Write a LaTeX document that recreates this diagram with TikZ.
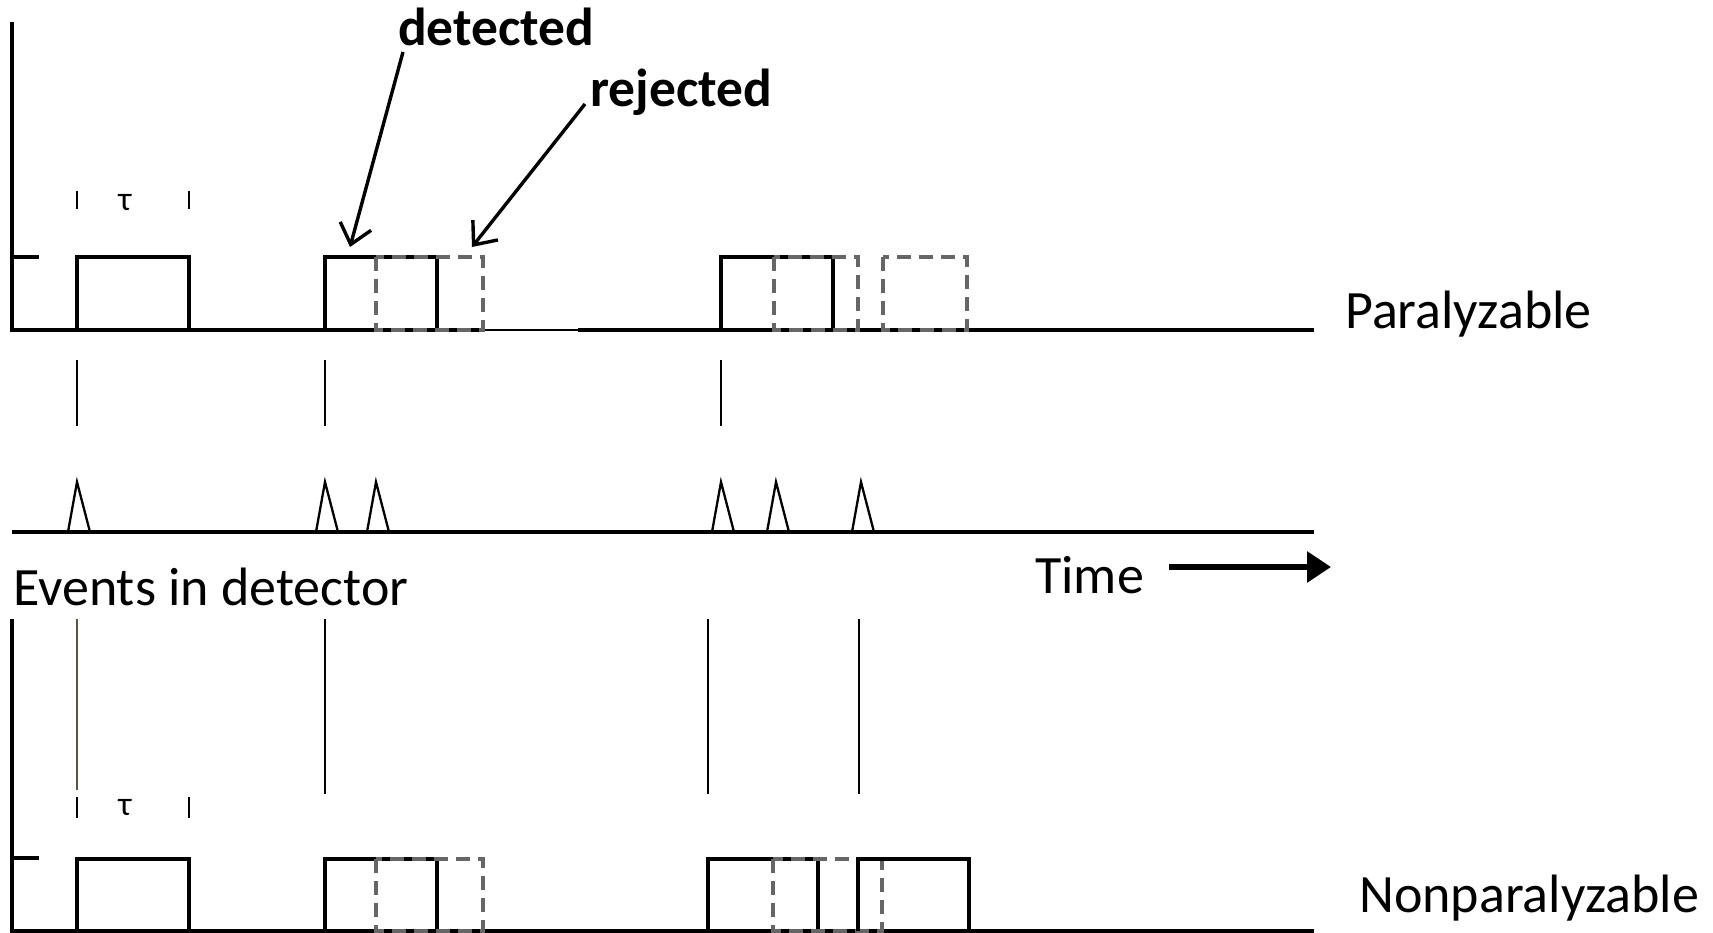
\documentclass[tikz,border=0pt]{standalone}
\usepackage{fontspec}
\setmainfont{Carlito}
\usetikzlibrary{arrows.meta}
\definecolor{ghostgray}{HTML}{666666}
\definecolor{olive}{HTML}{5C5544}
\begin{document}
\begin{tikzpicture}[x=1pt,y=-1pt,
  axis/.style={line width=3.4pt},
  pulse/.style={line width=3.4pt},
  ghost/.style={line width=3.4pt, draw=ghostgray, dash pattern=on 14pt off 8pt},
  tickmark/.style={line width=2.6pt},
  spike/.style={line width=2.4pt},
  peak/.style={line width=2.3pt, line join=miter},
  lbl/.style={inner sep=0pt, anchor=base west, font=\fontsize{54}{60}\selectfont},
  callout/.style={inner sep=0pt, anchor=base west, font=\bfseries\fontsize{53.5}{60}\selectfont},
  taulbl/.style={inner sep=0pt, font=\fontsize{34}{36}\selectfont},
  pointer/.style={line width=3.4pt, -{Straight Barb[length=19pt,width=32pt,line width=3.4pt]}},
]
\useasboundingbox (0,0) rectangle (1713,933);

% ---------- paralyzable counter ----------
\draw[axis] (12,22) -- (12,330) -- (484,330);
\draw[line width=2.2pt] (484,330) -- (578,330);
\draw[axis] (578,330) -- (1314,330);
\draw[axis] (12,257) -- (39,257);
% dead-time marks
\draw[tickmark] (77,191) -- (77,209);
\draw[tickmark] (189,191) -- (189,209);
\node[taulbl] (tauA) at (125,203) {τ};
% recorded pulses and extensions
\draw[pulse] (77,330) |- (189,257) -- (189,330);
\draw[pulse] (325,330) |- (437,257) -- (437,330);
\draw[ghost] (376,257) rectangle (483,330);
\draw[pulse] (721,330) |- (833,257) -- (833,330);
\draw[ghost] (774,257) rectangle (858,330);
\draw[ghost] (883,257) rectangle (967,330);

\node[lbl] (para) at (1345,328) {Paralyzable};

% callouts
\node[callout] (det) at (398,46) {detected};
\node[callout] (rej) at (590,107) {rejected};
\coordinate (detFrom) at (403,52);
\coordinate (detTip) at (350,247);
\coordinate (rejFrom) at (585,104);
\coordinate (rejTip) at (472,247);
\draw[pointer] (detFrom) -- (detTip);
\draw[pointer] (rejFrom) -- (rejTip);

% detected-event markers
\foreach \x in {77,325,721}
  \draw[spike] (\x,360) -- (\x,426);

% ---------- events in detector ----------
\foreach \x in {77,325,376,721,776,861}
  \draw[peak] (\x-9,532) -- (\x,482) -- (\x+13,532);
\draw[axis] (12,532) -- (1314,532);
\node[lbl] (events) at (13,605) {Events in detector};
\node[lbl] (time) at (1035,593) {Time};
\coordinate (tA) at (1169,567);
\coordinate (tB) at (1331,567);
\draw[line width=6pt, -{Triangle[length=24pt,width=30pt]}] (tA) -- (tB);

% ---------- nonparalyzable counter ----------
\draw[line width=2.8pt, olive] (77,619) -- (77,790);
\foreach \x in {325,708,859}
  \draw[line width=2.8pt] (\x,619) -- (\x,794);
\draw[axis] (12,619) -- (12,931) -- (1314,931);
\draw[axis] (12,858) -- (39,858);
\draw[tickmark] (77,797) -- (77,818);
\draw[tickmark] (189,797) -- (189,818);
\node[taulbl] (tauB) at (125,808) {τ};
\draw[pulse] (77,931) |- (189,859) -- (189,931);
\draw[pulse] (325,931) |- (437,859) -- (437,931);
\draw[ghost] (376,859) rectangle (483,931);
\draw[pulse] (708,931) |- (818,859) -- (818,931);
\draw[ghost] (773,859) rectangle (882,931);
\draw[pulse] (858,931) |- (969,859) -- (969,931);

\node[lbl] (nonpara) at (1359,912) {Nonparalyzable};
\end{tikzpicture}
\end{document}
